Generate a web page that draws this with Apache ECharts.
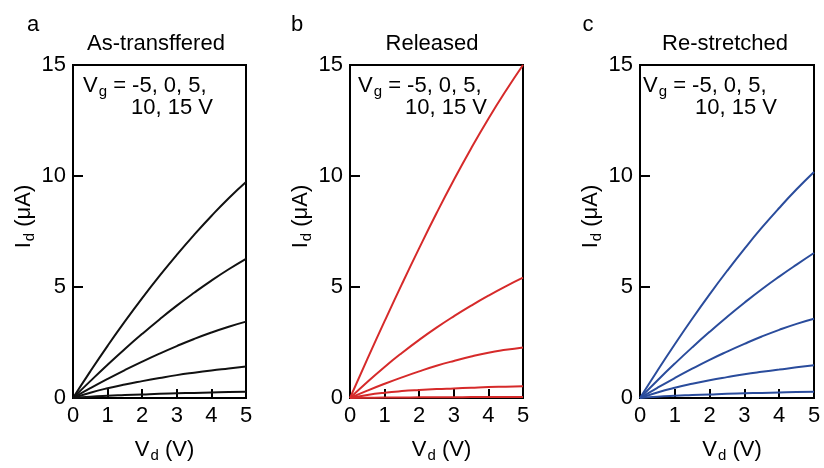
<!DOCTYPE html>
<html>
<head>
<meta charset="utf-8">
<script src="https://cdn.jsdelivr.net/npm/echarts@6/dist/echarts.min.js"></script>
<style>html,body{margin:0;padding:0;background:#fff;}#c{width:824px;height:468px;}</style>
</head>
<body>
<div id="c"></div>
<script>
// Drain voltage (V)
const vd = [0, 0.5, 1, 1.5, 2, 2.5, 3, 3.5, 4, 4.5, 5];
const xTicks = [0, 1, 2, 3, 4, 5];
const yTicks = [0, 5, 10, 15];
const panelTitles = ["As-transffered", "Released", "Re-stretched"];
const panelLetters = ["a", "b", "c"];
const vgLine1 = " = -5, 0, 5,";
const vgLine2 = "10, 15 V";

// (a) As-transferred: Id (uA), Vg = 15, 10, 5, 0, -5 V
const a_vg15 = [0, 1.2, 2.35, 3.45, 4.5, 5.5, 6.45, 7.35, 8.2, 9.0, 9.73];
const a_vg10 = [0, 0.76, 1.5, 2.21, 2.89, 3.54, 4.16, 4.74, 5.29, 5.8, 6.27];
const a_vg5  = [0, 0.44, 0.86, 1.26, 1.64, 2.0, 2.34, 2.66, 2.95, 3.21, 3.44];
const a_vg0  = [0, 0.24, 0.44, 0.61, 0.76, 0.9, 1.03, 1.14, 1.24, 1.33, 1.42];
const a_vgm5 = [0, 0.06, 0.1, 0.13, 0.16, 0.19, 0.21, 0.23, 0.25, 0.27, 0.28];

// (b) Released
const b_vg15 = [0, 1.75, 3.46, 5.13, 6.75, 8.32, 9.82, 11.24, 12.58, 13.83, 15.0];
const b_vg10 = [0, 0.72, 1.4, 2.03, 2.62, 3.17, 3.68, 4.16, 4.61, 5.03, 5.42];
const b_vg5  = [0, 0.33, 0.64, 0.93, 1.2, 1.45, 1.67, 1.87, 2.04, 2.17, 2.28];
const b_vg0  = [0, 0.14, 0.24, 0.31, 0.36, 0.4, 0.43, 0.46, 0.49, 0.51, 0.53];
const b_vgm5 = [0, 0.01, 0.02, 0.02, 0.03, 0.03, 0.03, 0.04, 0.04, 0.04, 0.04];

// (c) Re-stretched
const c_vg15 = [0, 1.23, 2.42, 3.57, 4.67, 5.72, 6.72, 7.67, 8.56, 9.4, 10.18];
const c_vg10 = [0, 0.79, 1.55, 2.28, 2.98, 3.65, 4.29, 4.9, 5.47, 6.01, 6.53];
const c_vg5  = [0, 0.46, 0.9, 1.32, 1.72, 2.09, 2.44, 2.77, 3.07, 3.34, 3.57];
const c_vg0  = [0, 0.25, 0.46, 0.64, 0.8, 0.94, 1.07, 1.18, 1.28, 1.38, 1.47];
const c_vgm5 = [0, 0.06, 0.1, 0.13, 0.16, 0.19, 0.21, 0.23, 0.25, 0.27, 0.28];

const panels = [
  {curves: [a_vg15, a_vg10, a_vg5, a_vg0, a_vgm5], color: '#111111'},
  {curves: [b_vg15, b_vg10, b_vg5, b_vg0, b_vgm5], color: '#d62a2a'},
  {curves: [c_vg15, c_vg10, c_vg5, c_vg0, c_vgm5], color: '#2a4c9c'}
];

const FONT = 'Liberation Sans, Arial, sans-serif';
const FS = 22;
const layout = [
  {left: 73, width: 173, title: 151, letter: 28, vg1: 83, vg2: 131},
  {left: 350, width: 173, title: 427, letter: 292, vg1: 358, vg2: 405},
  {left: 640, width: 174, title: 720, letter: 583, vg1: 643, vg2: 695}
];
const gridTop = 65, gridBottom = 65;

const richSub = {
  n: {fontSize: FS, fontFamily: FONT, color: '#000'},
  s: {fontSize: 15, fontFamily: FONT, color: '#000', padding: [12, 0, 0, 1]}
};

const grids = [], xAxes = [], yAxes = [], series = [], titles = [], graphics = [];
layout.forEach((L, i) => {
  grids.push({left: L.left, width: L.width, top: gridTop, bottom: gridBottom,
    show: true, borderColor: '#000', borderWidth: 2, backgroundColor: 'transparent'});
  xAxes.push({type: 'value', gridIndex: i, min: xTicks[0], max: xTicks[xTicks.length - 1], interval: 1,
    axisLine: {show: true, lineStyle: {color: '#000', width: 2}},
    axisTick: {show: true, inside: true, length: 9, lineStyle: {color: '#000', width: 2}},
    axisLabel: {color: '#000', fontSize: FS, fontFamily: FONT, margin: 7},
    splitLine: {show: false},
    name: '{n|V}{s|d}{n| (V)}', nameLocation: 'middle', nameGap: 38,
    nameTextStyle: {rich: richSub, padding: [0, 0, 0, 10]}
  });
  yAxes.push({type: 'value', gridIndex: i, min: yTicks[0], max: yTicks[yTicks.length - 1], interval: 5,
    axisLine: {show: true, lineStyle: {color: '#000', width: 2}},
    axisTick: {show: true, inside: true, length: 10, lineStyle: {color: '#000', width: 2}},
    axisLabel: {color: '#000', fontSize: FS, fontFamily: FONT, margin: 7},
    splitLine: {show: false},
    name: '{n|I}{s|d}{n| (μA)}', nameLocation: 'middle', nameGap: 36, nameRotate: 90,
    nameTextStyle: {rich: richSub, padding: [0, 0, 0, 30]}
  });
  panels[i].curves.forEach((arr) => {
    series.push({type: 'line', xAxisIndex: i, yAxisIndex: i, smooth: true, showSymbol: false,
      data: vd.map((v, k) => [v, arr[k]]),
      lineStyle: {color: panels[i].color, width: 2}, itemStyle: {color: panels[i].color}, z: 1});
  });
  titles.push({text: panelTitles[i], left: L.title, top: 28, textAlign: 'center',
    textStyle: {fontSize: FS, fontWeight: 'normal', fontFamily: FONT, color: '#000'}});
  titles.push({text: panelLetters[i], left: L.letter, top: 9, textAlign: 'center',
    textStyle: {fontSize: FS, fontWeight: 'normal', fontFamily: FONT, color: '#000'}});
  graphics.push({type: 'text', left: L.vg1, top: 75, z: 10,
    style: {text: '{n|V}{s|g}{n|' + vgLine1 + '}', rich: richSub}});
  graphics.push({type: 'text', left: L.vg2, top: 97, z: 10,
    style: {text: vgLine2, fontSize: FS, fontFamily: FONT, fill: '#000'}});
});

const chart = echarts.init(document.getElementById('c'));
chart.setOption({
  animation: false,
  backgroundColor: '#fff',
  title: titles,
  grid: grids,
  xAxis: xAxes,
  yAxis: yAxes,
  series: series,
  graphic: graphics
});
</script>
</body>
</html>
